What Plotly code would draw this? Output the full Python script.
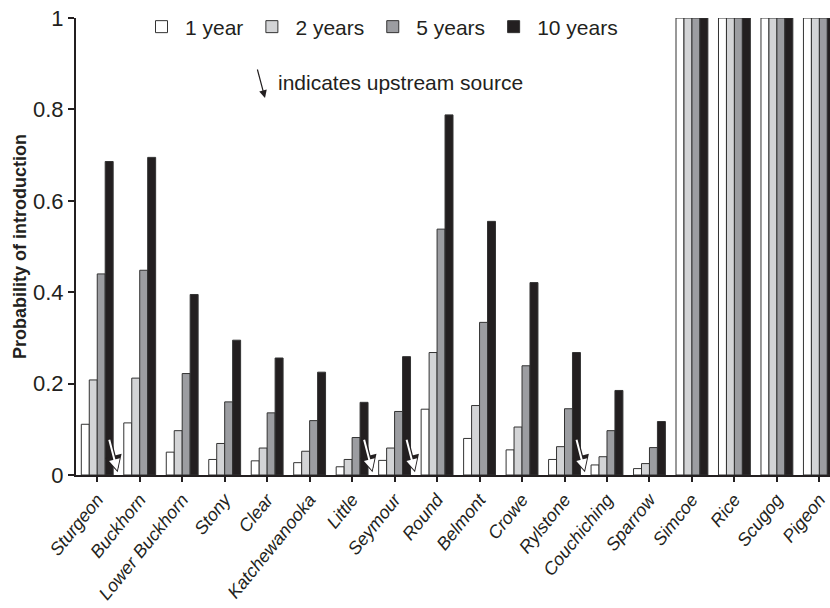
import plotly.graph_objects as go

lakes = ["Sturgeon", "Buckhorn", "Lower Buckhorn", "Stony", "Clear", "Katchewanooka",
         "Little", "Seymour", "Round", "Belmont", "Crowe", "Rylstone", "Couchiching",
         "Sparrow", "Simcoe", "Rice", "Scugog", "Pigeon"]

p_1yr = [0.111, 0.114, 0.050, 0.034, 0.031, 0.027, 0.018, 0.032, 0.144, 0.080, 0.055,
         0.034, 0.022, 0.014, 1, 1, 1, 1]
p_2yr = [0.208, 0.212, 0.097, 0.069, 0.059, 0.052, 0.034, 0.059, 0.268, 0.152, 0.105,
         0.062, 0.040, 0.025, 1, 1, 1, 1]
p_5yr = [0.440, 0.448, 0.222, 0.160, 0.136, 0.119, 0.082, 0.139, 0.538, 0.334, 0.239,
         0.145, 0.097, 0.060, 1, 1, 1, 1]
p_10yr = [0.686, 0.695, 0.395, 0.295, 0.256, 0.225, 0.159, 0.259, 0.788, 0.555, 0.421,
          0.268, 0.185, 0.117, 1, 1, 1, 1]

series_names = ["1 year", "2 years", "5 years", "10 years"]
series_colors = ["#ffffff", "#d3d4d6", "#9c9da1", "#231f20"]

# lakes whose upstream source is marked with an arrow
upstream_marked = ["Sturgeon", "Buckhorn", "Seymour", "Round", "Couchiching"]

FONT = "Liberation Sans, Arial, sans-serif"

W, H = 830, 608
PLOT_L, PLOT_R, PLOT_T, PLOT_B = 76, 830, 18, 475
PW, PH = PLOT_R - PLOT_L, PLOT_B - PLOT_T


def px_x(x):
    return (x - PLOT_L) / PW


def px_y(y):
    return (PLOT_B - y) / PH


fig = go.Figure()
for name, vals, col in zip(series_names, [p_1yr, p_2yr, p_5yr, p_10yr], series_colors):
    fig.add_trace(go.Bar(
        x=list(range(len(lakes))), y=vals, name=name,
        marker=dict(color=col, line=dict(color="#333333", width=1)),
    ))

annotations = []
for lake in upstream_marked:
    i = lakes.index(lake)
    xpos = i - 0.5 - 0.02
    if i == 0:
        annotations.append(dict(x=xpos, y=0.006, xref="x", yref="y", ax=-9, ay=-35,
                                showarrow=True, arrowhead=2, arrowsize=1.3, arrowwidth=1.5,
                                arrowcolor="#231f20", text=""))
    else:
        annotations.append(dict(x=xpos, y=0.006, xref="x", yref="y", ax=-9, ay=-35,
                                showarrow=True, arrowhead=2, arrowsize=0.75, arrowwidth=4.5,
                                arrowcolor="#231f20", text=""))
        annotations.append(dict(x=xpos, y=0.006, xref="x", yref="y", ax=-9, ay=-35,
                                showarrow=True, arrowhead=2, arrowsize=1.1, arrowwidth=2,
                                arrowcolor="#ffffff", standoff=2, startstandoff=1, text=""))

annotations.append(dict(xref="paper", yref="paper", x=px_x(265), y=px_y(98),
                        ax=-8, ay=-30, showarrow=True, arrowhead=2, arrowsize=1.3,
                        arrowwidth=1.2, arrowcolor="#231f20", text=""))
annotations.append(dict(xref="paper", yref="paper", x=px_x(276), y=px_y(82),
                        xanchor="left", yanchor="middle", showarrow=False,
                        text="indicates upstream source",
                        font=dict(size=21, color="#231f20", family=FONT)))

fig.update_layout(
    width=W, height=H,
    margin=dict(l=PLOT_L, r=W - PLOT_R, t=PLOT_T, b=H - PLOT_B),
    paper_bgcolor="white", plot_bgcolor="white",
    barmode="group", bargap=0.25, bargroupgap=0,
    font=dict(family=FONT, size=21, color="#231f20"),
    showlegend=True,
    legend=dict(orientation="h", x=px_x(138), y=px_y(27), itemwidth=37,
                xanchor="left", yanchor="middle", bgcolor="rgba(0,0,0,0)",
                font=dict(size=21, family=FONT, color="#231f20"), traceorder="normal"),
    annotations=annotations,
)

fig.update_xaxes(
    range=[-0.5, 17.25], tickmode="array", tickvals=list(range(len(lakes))),
    ticktext=["<i>%s</i>" % l for l in lakes], tickangle=-51,
    tickfont=dict(size=18, family=FONT, color="#231f20"),
    ticks="outside", ticklen=5, tickwidth=1.5, tickcolor="#231f20",
    showline=True, linecolor="#231f20", linewidth=2, ticklabeloverflow="allow",
    showgrid=False, zeroline=False, automargin=False,
)
fig.update_yaxes(
    range=[0, 1], tickmode="array", tickvals=[0, 0.2, 0.4, 0.6, 0.8, 1],
    ticktext=["0", "0.2", "0.4", "0.6", "0.8", "1"],
    tickfont=dict(size=22, family=FONT, color="#231f20"),
    ticks="outside", ticklen=6, tickwidth=1.5, tickcolor="#231f20",
    showline=True, linecolor="#231f20", linewidth=2, ticklabeloverflow="allow",
    showgrid=False, zeroline=False, automargin=False,
    title=dict(text="<b>Probability of introduction</b>", standoff=2,
               font=dict(size=18, family=FONT, color="#231f20")),
)

fig.write_html("out.html",
               config={"displayModeBar": False},
               post_script="document.body.style.margin='0';"
                           "document.body.style.overflow='hidden';")
